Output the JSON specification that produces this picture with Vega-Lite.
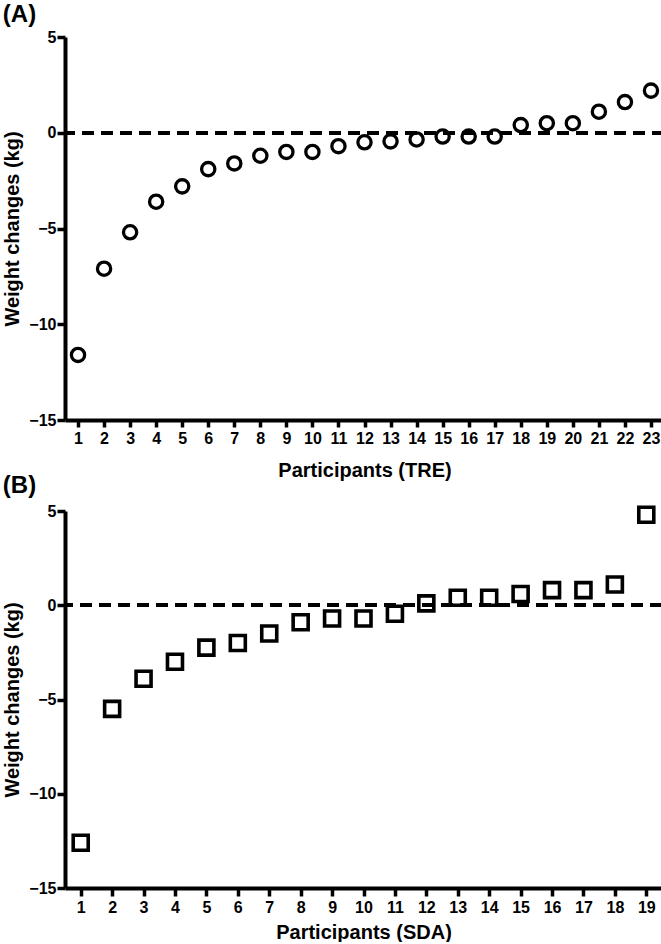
{
  "$schema": "https://vega.github.io/schema/vega-lite/v6.json",
  "background": "white",
  "padding": {"left": 2, "top": 3, "right": 0, "bottom": 0},
  "spacing": -6,
  "config": {
    "view": {"stroke": null}
  },
  "datasets": {
    "tre": [
      {"participant": 1, "change": -11.6}, {"participant": 2, "change": -7.1}, {"participant": 3, "change": -5.2},
      {"participant": 4, "change": -3.6}, {"participant": 5, "change": -2.8}, {"participant": 6, "change": -1.9},
      {"participant": 7, "change": -1.6}, {"participant": 8, "change": -1.2}, {"participant": 9, "change": -1.0},
      {"participant": 10, "change": -1.0}, {"participant": 11, "change": -0.7}, {"participant": 12, "change": -0.5},
      {"participant": 13, "change": -0.45}, {"participant": 14, "change": -0.35}, {"participant": 15, "change": -0.2},
      {"participant": 16, "change": -0.2}, {"participant": 17, "change": -0.2}, {"participant": 18, "change": 0.4},
      {"participant": 19, "change": 0.5}, {"participant": 20, "change": 0.5}, {"participant": 21, "change": 1.1},
      {"participant": 22, "change": 1.6}, {"participant": 23, "change": 2.2}
    ],
    "sda": [
      {"participant": 1, "change": -12.6}, {"participant": 2, "change": -5.5}, {"participant": 3, "change": -3.9},
      {"participant": 4, "change": -3.0}, {"participant": 5, "change": -2.25}, {"participant": 6, "change": -2.0},
      {"participant": 7, "change": -1.5}, {"participant": 8, "change": -0.9}, {"participant": 9, "change": -0.7},
      {"participant": 10, "change": -0.7}, {"participant": 11, "change": -0.45}, {"participant": 12, "change": 0.1},
      {"participant": 13, "change": 0.4}, {"participant": 14, "change": 0.4}, {"participant": 15, "change": 0.6},
      {"participant": 16, "change": 0.8}, {"participant": 17, "change": 0.8}, {"participant": 18, "change": 1.1},
      {"participant": 19, "change": 4.8}
    ]
  },
  "vconcat": [
    {
      "title": {"text": "(A)", "font": "Liberation Sans", "fontWeight": "bold", "fontSize": 24, "color": "black", "anchor": "start", "frame": "bounds", "offset": 2},
      "width": 599,
      "height": 383,
      "data": {"name": "tre"},
      "layer": [
        {
          "mark": {"type": "rule", "color": "black", "strokeWidth": 3, "strokeDash": [12, 7]},
          "encoding": {"y": {"datum": 0, "type": "quantitative"}}
        },
        {
          "mark": {"type": "point", "shape": "circle", "filled": false, "color": "black", "strokeWidth": 3.3, "size": 175, "opacity": 1},
          "encoding": {
            "x": {"field": "participant", "type": "ordinal", "scale": {"type": "point", "padding": 0.5}, "title": "Participants (TRE)",
              "axis": {"grid": false, "labelAngle": 0, "domainColor": "black", "domainWidth": 4, "tickColor": "black", "tickWidth": 3.5, "tickSize": 7,
                "labelFont": "Liberation Sans", "labelFontWeight": "bold", "labelFontSize": 16, "labelColor": "black", "labelPadding": 3,
                "titleFont": "Liberation Sans", "titleFontWeight": "bold", "titleFontSize": 20, "titleColor": "black", "titlePadding": 14}},
            "y": {"field": "change", "type": "quantitative", "scale": {"domain": [-15, 5], "nice": false, "zero": false}, "title": "Weight changes (kg)",
              "axis": {"grid": false, "values": [-15, -10, -5, 0, 5], "domainColor": "black", "domainWidth": 4, "tickColor": "black", "tickWidth": 3.5, "tickSize": 8,
                "labelFont": "Liberation Sans", "labelFontWeight": "bold", "labelFontSize": 16, "labelColor": "black", "labelPadding": 1,
                "titleFont": "Liberation Sans", "titleFontWeight": "bold", "titleFontSize": 20, "titleColor": "black", "titlePadding": 6}}
          }
        }
      ]
    },
    {
      "title": {"text": "(B)", "font": "Liberation Sans", "fontWeight": "bold", "fontSize": 24, "color": "black", "anchor": "start", "frame": "bounds", "offset": 2},
      "width": 597,
      "height": 377,
      "data": {"name": "sda"},
      "layer": [
        {
          "mark": {"type": "rule", "color": "black", "strokeWidth": 3, "strokeDash": [12, 7]},
          "encoding": {"y": {"datum": 0, "type": "quantitative"}}
        },
        {
          "mark": {"type": "point", "shape": "square", "filled": false, "color": "black", "strokeWidth": 3.6, "size": 225, "opacity": 1},
          "encoding": {
            "x": {"field": "participant", "type": "ordinal", "scale": {"type": "point", "padding": 0.5}, "title": "Participants (SDA)",
              "axis": {"grid": false, "labelAngle": 0, "domainColor": "black", "domainWidth": 4, "tickColor": "black", "tickWidth": 3.5, "tickSize": 8,
                "labelFont": "Liberation Sans", "labelFontWeight": "bold", "labelFontSize": 16, "labelColor": "black", "labelPadding": 3,
                "titleFont": "Liberation Sans", "titleFontWeight": "bold", "titleFontSize": 20, "titleColor": "black", "titlePadding": 7}},
            "y": {"field": "change", "type": "quantitative", "scale": {"domain": [-15, 5], "nice": false, "zero": false}, "title": "Weight changes (kg)",
              "axis": {"grid": false, "values": [-15, -10, -5, 0, 5], "domainColor": "black", "domainWidth": 4, "tickColor": "black", "tickWidth": 3.5, "tickSize": 8,
                "labelFont": "Liberation Sans", "labelFontWeight": "bold", "labelFontSize": 16, "labelColor": "black", "labelPadding": 1,
                "titleFont": "Liberation Sans", "titleFontWeight": "bold", "titleFontSize": 20, "titleColor": "black", "titlePadding": 6}}
          }
        }
      ]
    }
  ]
}
